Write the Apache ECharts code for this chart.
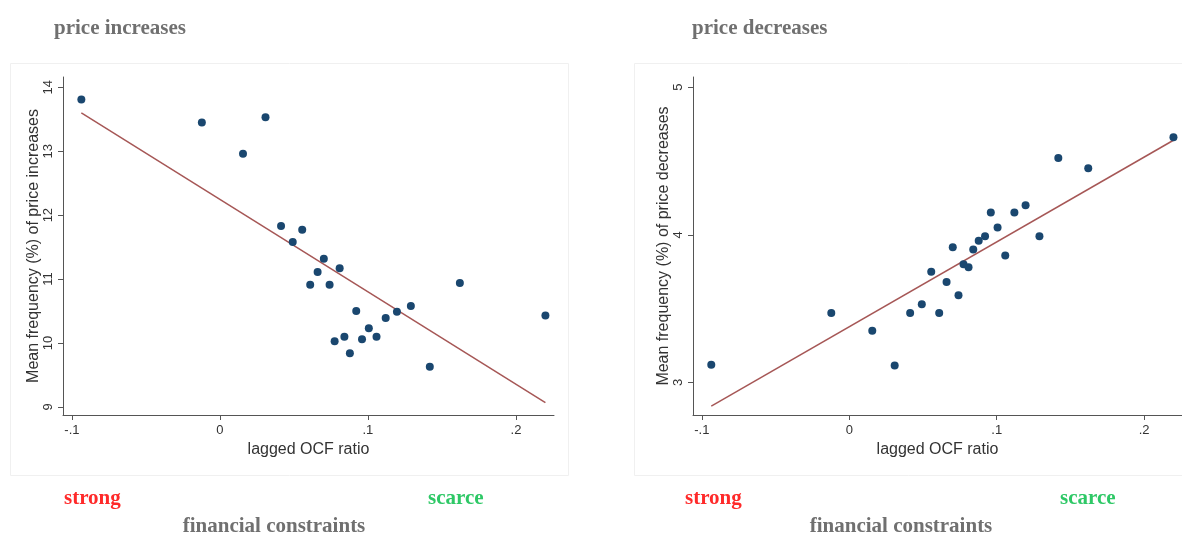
<!DOCTYPE html>
<html><head><meta charset="utf-8">
<script src="https://cdn.jsdelivr.net/npm/echarts@6/dist/echarts.min.js"></script>
<style>html,body{margin:0;padding:0;background:#fff}#c{width:1182px;height:538px}</style>
</head><body><div id="c"></div>
<script>
// lagged OCF ratio (shared by both panels)
const ocf = [-0.0936, -0.0122, 0.0156, 0.0308, 0.0413, 0.0492, 0.0556, 0.0610, 0.0660, 0.0702,
  0.0741, 0.0775, 0.0809, 0.0841, 0.0878, 0.0921, 0.0960, 0.1006, 0.1058, 0.1120,
  0.1196, 0.1290, 0.1418, 0.1621, 0.2199];
const incFreq = [13.81, 13.45, 12.96, 13.53, 11.83, 11.58, 11.77, 10.91, 11.11, 11.32,
  10.91, 10.03, 11.17, 10.10, 9.84, 10.50, 10.06, 10.23, 10.10, 10.39,
  10.49, 10.58, 9.63, 10.94, 10.43];
const decFreq = [3.12, 3.47, 3.35, 3.115, 3.47, 3.53, 3.75, 3.47, 3.68, 3.915,
  3.59, 3.80, 3.78, 3.90, 3.96, 3.99, 4.15, 4.05, 3.86, 4.15,
  4.20, 3.99, 4.52, 4.45, 4.66];
// fitted line endpoints [x, y]
const incFit = [[-0.0936, 13.60], [0.2199, 9.07]];
const decFit = [[-0.0936, 2.84], [0.2199, 4.64]];
const xTicks = [-0.1, 0, 0.1, 0.2];
const incTicks = [9, 10, 11, 12, 13, 14];
const decTicks = [3, 4, 5];
const titles = ['price increases', 'price decreases'];
const yNames = ['Mean frequency (%) of price increases', 'Mean frequency (%) of price decreases'];
const xName = 'lagged OCF ratio';

const fmtX = v => v === 0 ? '0' : (v < 0 ? '-' : '') + String(Math.abs(v)).replace(/^0/, '');
const axisCol = '#555';
const lab = {color: '#333', fontFamily: 'Liberation Sans, Arial', fontSize: 13};
function xAx(i) {
  return {type: 'value', gridIndex: i, min: -0.106, max: 0.2257,
    name: xName, nameLocation: 'middle', nameGap: 26,
    nameTextStyle: {color: '#333', fontFamily: 'Liberation Sans, Arial', fontSize: 16},
    axisLine: {show: true, onZero: false, lineStyle: {color: axisCol, width: 1}},
    axisTick: {show: true, length: 5, customValues: xTicks, lineStyle: {color: axisCol}},
    axisLabel: Object.assign({customValues: xTicks, formatter: fmtX, margin: 9}, lab),
    splitLine: {show: false}};
}
function yAx(i, min, max, ticks) {
  return {type: 'value', gridIndex: i, min: min, max: max,
    name: yNames[i], nameLocation: 'middle', nameGap: 21,
    nameTextStyle: {color: '#333', fontFamily: 'Liberation Sans, Arial', fontSize: 16},
    axisLine: {show: true, onZero: false, lineStyle: {color: axisCol, width: 1}},
    axisTick: {show: true, length: 5, customValues: ticks, lineStyle: {color: axisCol}},
    axisLabel: Object.assign({customValues: ticks, rotate: 90, margin: 8}, lab),
    splitLine: {show: false}};
}
const serifT = (t, x, y, color, extra) => ({type: 'text', x: x, y: y,
  style: Object.assign({text: t, fill: color, font: 'bold 21px "Liberation Serif", serif',
    textVerticalAlign: 'middle'}, extra || {})});

const chart = echarts.init(document.getElementById('c'), null, {renderer: 'canvas'});
chart.setOption({
  animation: false,
  backgroundColor: '#fff',
  grid: [
    {left: 63, top: 77, width: 491, height: 338},
    {left: 693, top: 77, width: 492, height: 338}
  ],
  xAxis: [xAx(0), xAx(1)],
  yAxis: [yAx(0, 8.875, 14.16, incTicks), yAx(1, 2.78, 5.068, decTicks)],
  series: [
    {type: 'line', xAxisIndex: 0, yAxisIndex: 0, data: incFit, symbol: 'none',
      lineStyle: {color: '#a65756', width: 1.5}, z: 2},
    {type: 'scatter', xAxisIndex: 0, yAxisIndex: 0, data: ocf.map((x, i) => [x, incFreq[i]]),
      symbolSize: 8, itemStyle: {color: '#1a476f', opacity: 1}, z: 3},
    {type: 'line', xAxisIndex: 1, yAxisIndex: 1, data: decFit, symbol: 'none',
      lineStyle: {color: '#a65756', width: 1.5}, z: 2},
    {type: 'scatter', xAxisIndex: 1, yAxisIndex: 1, data: ocf.map((x, i) => [x, decFreq[i]]),
      symbolSize: 8, itemStyle: {color: '#1a476f', opacity: 1}, z: 3}
  ],
  graphic: [
    {type: 'rect', shape: {x: 10.5, y: 63.5, width: 558, height: 412}, style: {fill: 'none', stroke: '#f0f0f0', lineWidth: 1}, z: -1},
    {type: 'rect', shape: {x: 634.5, y: 63.5, width: 560, height: 412}, style: {fill: 'none', stroke: '#f0f0f0', lineWidth: 1}, z: -1},
    serifT(titles[0], 54, 29, '#707070'),
    serifT(titles[1], 692, 29, '#707070'),
    serifT('strong', 64, 499, '#ff2a2a'),
    serifT('scarce', 428, 499, '#2ec866'),
    serifT('financial constraints', 274, 527, '#707070', {textAlign: 'center'}),
    serifT('strong', 685, 499, '#ff2a2a'),
    serifT('scarce', 1060, 499, '#2ec866'),
    serifT('financial constraints', 901, 527, '#707070', {textAlign: 'center'})
  ]
});
</script></body></html>
